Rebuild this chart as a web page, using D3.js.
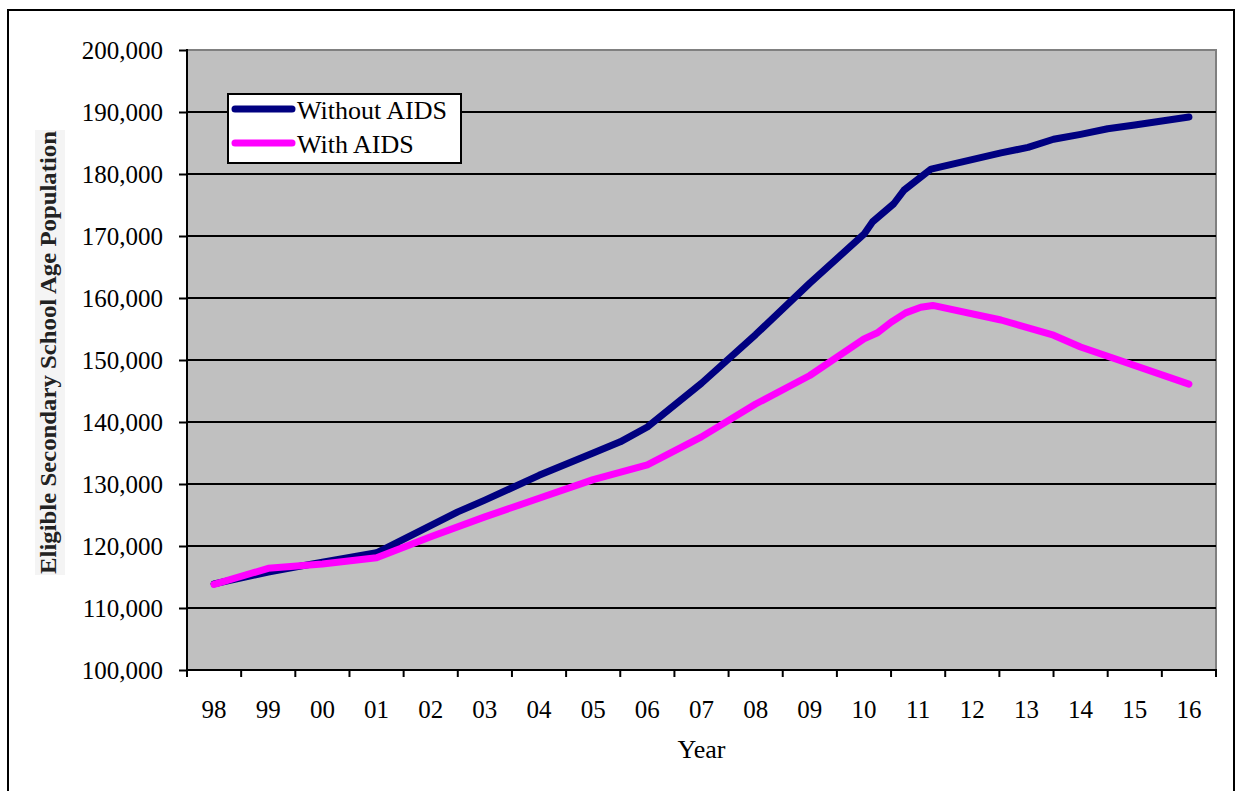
<!DOCTYPE html>
<html>
<head>
<meta charset="utf-8">
<script src="https://cdn.jsdelivr.net/npm/d3@7"></script>
<style>
  html, body { margin: 0; padding: 0; background: #ffffff; }
  svg { display: block; }
  text { font-family: "Liberation Serif", "Times New Roman", serif; }
</style>
</head>
<body>
<svg id="chart" width="1236" height="791"></svg>
<script>
// ---- data ----
const categories = ["98","99","00","01","02","03","04","05","06","07","08","09","10","11","12","13","14","15","16"];
const yTickValues = [100000,110000,120000,130000,140000,150000,160000,170000,180000,190000,200000];

// positions are measured in category units (0 = "98", 18 = "16")
const withoutPos  = [0, 1, 2, 3, 4.5, 5, 6, 7, 7.5, 8, 9, 10, 11, 12, 12.16, 12.55, 12.74, 13.24, 14.53, 15.03, 15.5, 16, 16.5, 17, 18];
const withoutVals = [113900, 115800, 117400, 118900, 125500, 127400, 131400, 135000, 136800, 139200, 146250, 154100, 162400, 170300, 172300, 175200, 177400, 180800, 183400, 184300, 185600, 186400, 187300, 187900, 189200];

const withPos  = [0, 1, 2, 3, 4, 5, 6, 7, 8, 9, 10, 11, 12, 12.25, 12.5, 12.77, 13.05, 13.27, 14.53, 15.5, 16, 16.5, 18];
const withVals = [113800, 116400, 117100, 118100, 121500, 124700, 127700, 130700, 133100, 137600, 142900, 147500, 153400, 154400, 156100, 157600, 158500, 158800, 156450, 154000, 152100, 150600, 146100];

const seriesNames = ["Without AIDS", "With AIDS"];
const seriesColors = ["#000080", "#ff00ff"];

// ---- layout ----
const plot = { left: 187, right: 1216, top: 50, bottom: 670 };
const svg = d3.select("#chart");

// outer frame
svg.append("rect").attr("x", 8).attr("y", 10).attr("width", 1226).attr("height", 800)
  .attr("fill", "#ffffff").attr("stroke", "#000").attr("stroke-width", 2);

const xBand = d3.scaleBand().domain(categories).range([plot.left, plot.right]).paddingInner(0).paddingOuter(0);
const xLin = d3.scaleLinear().domain([-0.5, categories.length - 0.5]).range([plot.left, plot.right]);
const y = d3.scaleLinear().domain([100000, 200000]).range([plot.bottom, plot.top]);

// plot background
svg.append("rect").attr("x", plot.left).attr("y", plot.top)
  .attr("width", plot.right - plot.left).attr("height", plot.bottom - plot.top)
  .attr("fill", "#c0c0c0").attr("stroke", "#808080").attr("stroke-width", 2);

// gridlines
svg.append("g").selectAll("line")
  .data(yTickValues.filter(v => v > 100000 && v < 200000))
  .join("line")
  .attr("x1", plot.left).attr("x2", plot.right)
  .attr("y1", d => y(d)).attr("y2", d => y(d))
  .attr("stroke", "#000").attr("stroke-width", 2);

// y axis
const yAxis = d3.axisLeft(y).tickValues(yTickValues).tickFormat(d3.format(",")).tickSize(8).tickPadding(16);
const gy = svg.append("g").attr("transform", `translate(${plot.left},0)`).call(yAxis);
gy.select(".domain").remove();
gy.selectAll(".tick line").attr("stroke", "#000").attr("stroke-width", 2);
gy.selectAll(".tick text").attr("font-size", 25).attr("fill", "#000")
  .attr("font-family", "Liberation Serif, Times New Roman, serif");
svg.append("line").attr("x1", plot.left).attr("x2", plot.left).attr("y1", plot.top - 1).attr("y2", plot.bottom + 1)
  .attr("stroke", "#000").attr("stroke-width", 2);

// x axis: labels at category centres, ticks at category boundaries
const xAxis = d3.axisBottom(xBand).tickSize(0).tickPadding(30);
const gx = svg.append("g").attr("transform", `translate(0,${plot.bottom})`).call(xAxis);
gx.select(".domain").remove();
gx.selectAll(".tick text").attr("font-size", 25).attr("fill", "#000")
  .attr("font-family", "Liberation Serif, Times New Roman, serif");
const boundaries = categories.map(c => xBand(c)).concat([xBand.range()[1]]);
svg.append("g").selectAll("line").data(boundaries).join("line")
  .attr("x1", d => d).attr("x2", d => d).attr("y1", plot.bottom).attr("y2", plot.bottom + 7)
  .attr("stroke", "#000").attr("stroke-width", 2);
svg.append("line").attr("x1", plot.left - 1).attr("x2", plot.right + 1).attr("y1", plot.bottom).attr("y2", plot.bottom)
  .attr("stroke", "#000").attr("stroke-width", 2);

// axis titles
svg.append("text").attr("x", (plot.left + plot.right) / 2).attr("y", 758)
  .attr("text-anchor", "middle").attr("font-size", 26).attr("fill", "#000").text("Year");

svg.append("rect").attr("x", 35).attr("y", 130).attr("width", 30).attr("height", 445).attr("fill", "#f4f4f4");
svg.append("text")
  .attr("transform", "translate(56,352.5) rotate(-90)")
  .attr("text-anchor", "middle").attr("font-size", 23).attr("font-weight", "bold")
  .attr("textLength", 443).attr("lengthAdjust", "spacingAndGlyphs")
  .attr("fill", "#222").text("Eligible Secondary School Age Population");

// lines
const line = d3.line().x(d => xLin(d[0])).y(d => y(d[1]));
const seriesData = [
  d3.zip(withoutPos, withoutVals),
  d3.zip(withPos, withVals)
];
svg.append("g").selectAll("path").data(seriesData).join("path")
  .attr("d", d => line(d))
  .attr("fill", "none")
  .attr("stroke", (d, i) => seriesColors[i])
  .attr("stroke-width", 7)
  .attr("stroke-linejoin", "round")
  .attr("stroke-linecap", "round");

// legend
const lg = svg.append("g");
lg.append("rect").attr("x", 228).attr("y", 94).attr("width", 233).attr("height", 69)
  .attr("fill", "#fff").attr("stroke", "#000").attr("stroke-width", 2);
const legendY = [109, 143];
seriesNames.forEach((name, i) => {
  lg.append("line").attr("x1", 235).attr("x2", 292).attr("y1", legendY[i]).attr("y2", legendY[i])
    .attr("stroke", seriesColors[i]).attr("stroke-width", 7).attr("stroke-linecap", "round");
  lg.append("text").attr("x", 297).attr("y", legendY[i] + 10)
    .attr("font-size", 26).attr("fill", "#000").text(name);
});
</script>
</body>
</html>
